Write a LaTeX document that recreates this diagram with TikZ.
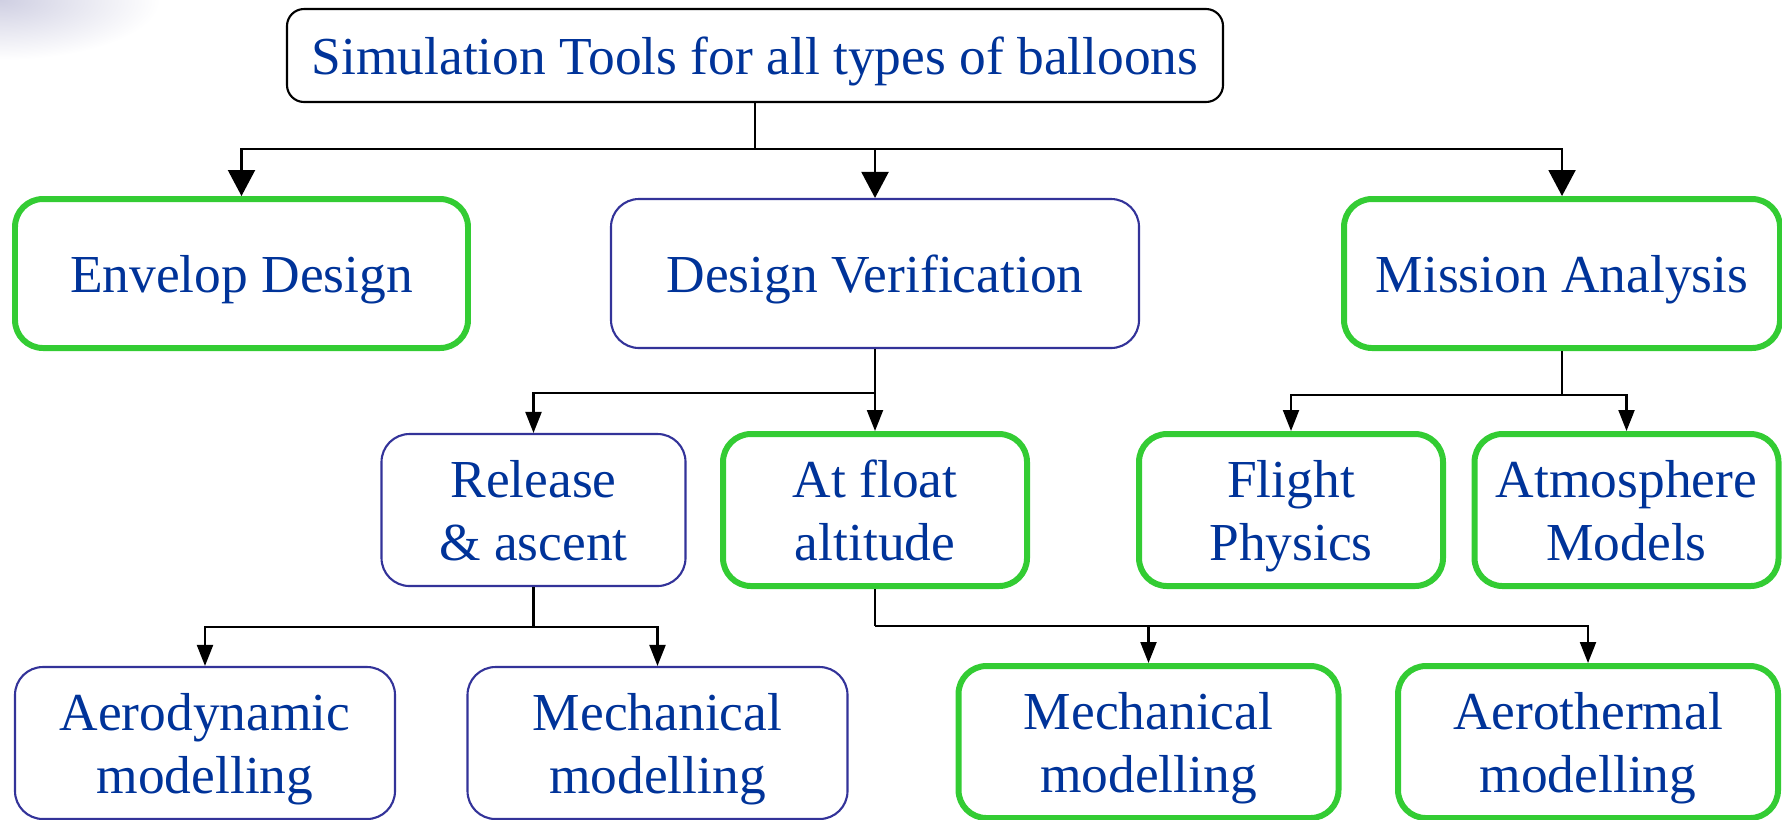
\documentclass[tikz,border=0pt]{standalone}
\usepackage{fontspec}
\setmainfont{Liberation Serif}
\usetikzlibrary{arrows.meta}

\newcommand{\capstrut}{\rule{0pt}{14.5pt}}
\newcommand{\dropstrut}{\rule[-3.7pt]{0pt}{3.7pt}}
\definecolor{tool text}{HTML}{003399}
\definecolor{key edge}{HTML}{33CC33}
\definecolor{sub edge}{HTML}{333399}
\colorlet{slide tint}{blue!25!gray!30}
\tikzset{
  boxfont/.style={font=\fontsize{15.2}{17.8}\selectfont, text=tool text, align=center, inner sep=0pt},
  plainbox/.style={boxfont, draw=black, line width=0.6pt, rounded corners=0.17cm},
  keybox/.style={boxfont, draw=key edge, line width=1.7pt, rounded corners=0.28cm},
  subbox/.style={boxfont, draw=sub edge, line width=0.6pt, rounded corners=0.28cm}
  }
\tikzstyle{link} = [draw, line width=0.6pt, -]
\tikzstyle{bigarrow} = [link, -{Triangle[width=2.7mm,length=2.6mm]}]
\tikzstyle{smallarrow} = [link, -{Triangle[width=1.6mm,length=2.1mm]}]

\begin{document}
\begin{tikzpicture}
  \useasboundingbox (0,0) rectangle (17.82,-8.19);

  \begin{scope}
    \clip (0,0) rectangle (17.82,-8.19);
    \shade[inner color=slide tint, outer color=white] (0,0) ellipse (1.6cm and 0.6cm);
  \end{scope}

  \node[plainbox, minimum width=9.36cm, minimum height=0.93cm] (tools) at (7.55,-0.555)
    {\capstrut Simulation Tools for all types of balloons\dropstrut};

  \foreach \pos/\name/\kind/\boxwidth/\txt in {{(2.415,-2.735)/envelop/keybox/4.53/Envelop Design},
      {(8.75,-2.735)/verify/subbox/5.28/Design Verification},
      {(15.62,-2.735)/mission/keybox/4.36/Mission Analysis}} {
    \node[\kind, minimum width=\boxwidth cm, minimum height=1.49cm] (\name) at \pos {\capstrut\txt\dropstrut};
  }

  \foreach \pos/\name/\kind/\txt in {{(5.335,-5.10)/release/subbox/Release\\\& ascent},
      {(8.75,-5.10)/float/keybox/At float\\altitude},
      {(12.91,-5.10)/flight/keybox/Flight\\Physics},
      {(16.265,-5.10)/atmo/keybox/Atmosphere\\Models}} {
    \node[\kind, minimum width=3.04cm, minimum height=1.52cm] (\name) at \pos {\capstrut\txt\dropstrut};
  }

  \foreach \pos/\name/\kind/\txt in {{(2.05,-7.43)/aero/subbox/Aerodynamic\\modelling},
      {(6.575,-7.43)/mechlow/subbox/Mechanical\\modelling},
      {(11.485,-7.42)/mechfloat/keybox/Mechanical\\modelling},
      {(15.88,-7.42)/thermal/keybox/Aerothermal\\modelling}} {
    \node[\kind, minimum width=3.8cm, minimum height=1.52cm] (\name) at \pos {\capstrut\txt\dropstrut};
  }

  % tree links
  \path (tools.south) ++(0,-0.46) coordinate (split1);
  \path (verify.south) ++(0,-0.44) coordinate (split2);
  \path (mission.south) ++(0,-0.44) coordinate (split3);
  \path (release.south) ++(0,-0.40) coordinate (split4);
  \path (float.south) ++(0,-0.37) coordinate (split5);

  \path[link] (tools.south) -- (split1);
  \foreach \name in {envelop, verify, mission}
    \path[bigarrow] (split1) -| (\name.north);

  \path[link] (verify.south) -- (split2);
  \foreach \name in {release, float}
    \path[smallarrow] (split2) -| (\name.north);

  \path[link] (mission.south) -- (split3);
  \foreach \name in {flight, atmo}
    \path[smallarrow] (split3) -| (\name.north);

  \path[link] (release.south) -- (split4);
  \foreach \name in {aero, mechlow}
    \path[smallarrow] (split4) -| (\name.north);

  \path[link] (float.south) -- (split5);
  \foreach \name in {mechfloat, thermal}
    \path[smallarrow] (split5) -| (\name.north);
\end{tikzpicture}
\end{document}
